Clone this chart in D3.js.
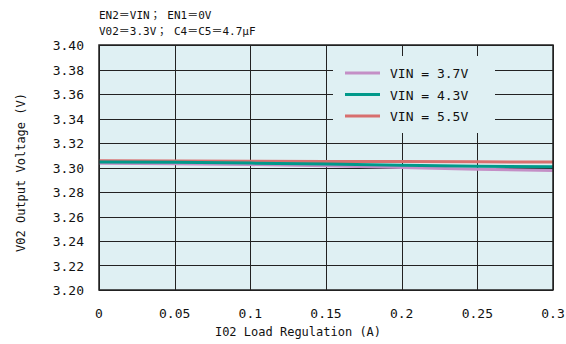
<!DOCTYPE html>
<html>
<head>
<meta charset="utf-8">
<script src="https://cdn.jsdelivr.net/npm/d3@7"></script>
<style>
  body { margin: 0; background: #fff; }
  text { font-family: "DejaVu Sans Mono", "Noto Sans CJK JP", monospace; fill: #111; }
</style>
</head>
<body>
<div id="chart"></div>
<script>
// Data
var loadCurrent = [0, 0.05, 0.1, 0.15, 0.2, 0.25, 0.3];
var vin37 = [3.3034, 3.3030, 3.3024, 3.3014, 3.3000, 3.2986, 3.2975];
var vin43 = [3.3045, 3.3042, 3.3036, 3.3028, 3.3018, 3.3010, 3.3007];
var vin55 = [3.3056, 3.3054, 3.3052, 3.3050, 3.3048, 3.3046, 3.3045];
var seriesNames = ["VIN = 3.7V", "VIN = 4.3V", "VIN = 5.5V"];
var seriesColors = ["#c48fc6", "#00998a", "#d86f6e"];
var xTicks = [0, 0.05, 0.1, 0.15, 0.2, 0.25, 0.3];
var yTicks = [3.20, 3.22, 3.24, 3.26, 3.28, 3.30, 3.32, 3.34, 3.36, 3.38, 3.40];
var titleLines = ["EN2＝VIN； EN1＝0V", "V02＝3.3V； C4＝C5＝4.7μF"];

var W = 566, H = 344;
var margin = { top: 45, right: 13, bottom: 54, left: 99 },
    width = W - margin.left - margin.right,
    height = H - margin.top - margin.bottom;

var svg = d3.select("#chart").append("svg")
    .attr("width", W).attr("height", H);
var g = svg.append("g")
    .attr("transform", "translate(" + margin.left + "," + margin.top + ")");

var x = d3.scaleLinear().domain([0, 0.3]).range([0, width]);
var y = d3.scaleLinear().domain([3.20, 3.40]).range([height, 0]);

// plot background
g.append("rect")
    .attr("width", width).attr("height", height)
    .attr("fill", "#dff0f3");

// grid
g.append("g").selectAll("line").data(xTicks).enter().append("line")
    .attr("x1", function (d) { return Math.round(x(d)) + 0.5; })
    .attr("x2", function (d) { return Math.round(x(d)) + 0.5; })
    .attr("y1", 0).attr("y2", height)
    .attr("stroke", "#222").attr("stroke-width", 1);
g.append("g").selectAll("line").data(yTicks).enter().append("line")
    .attr("y1", function (d) { return Math.round(y(d)) + 0.5; })
    .attr("y2", function (d) { return Math.round(y(d)) + 0.5; })
    .attr("x1", 0).attr("x2", width)
    .attr("stroke", "#222").attr("stroke-width", 1);

// legend box hides the grid behind it
var lg = g.append("g").attr("transform", "translate(234,11)");
lg.append("rect").attr("width", 162).attr("height", 77).attr("fill", "#dff0f3");
seriesNames.forEach(function (name, i) {
    var yy = 17 + i * 21.5;
    lg.append("line")
        .attr("x1", 12).attr("x2", 47).attr("y1", yy).attr("y2", yy)
        .attr("stroke", seriesColors[i]).attr("stroke-width", 3);
    lg.append("text")
        .attr("x", 57).attr("y", yy + 5)
        .style("font-size", "13px")
        .text(name);
});

// series lines
var line = d3.line()
    .x(function (d, i) { return x(loadCurrent[i]); })
    .y(function (d) { return y(d); });
[vin55, vin37, vin43].forEach(function (s) {
    var idx = s === vin37 ? 0 : (s === vin43 ? 1 : 2);
    g.append("path")
        .datum(s)
        .attr("d", line)
        .attr("fill", "none")
        .attr("stroke", seriesColors[idx])
        .attr("stroke-width", 3);
});

// frame
g.append("rect")
    .attr("width", width).attr("height", height)
    .attr("fill", "none").attr("stroke", "#222").attr("stroke-width", 1.5);

// tick labels
g.append("g").selectAll("text").data(yTicks).enter().append("text")
    .attr("x", -15)
    .attr("y", function (d) { return y(d) + 5; })
    .attr("text-anchor", "end")
    .style("font-size", "13px")
    .text(function (d) { return d.toFixed(2); });
g.append("g").selectAll("text").data(xTicks).enter().append("text")
    .attr("x", function (d) { return x(d); })
    .attr("y", height + 28)
    .attr("text-anchor", "middle")
    .style("font-size", "13px")
    .text(function (d) { return d3.format("~g")(d); });

// axis titles
g.append("text")
    .attr("x", width / 2 - 28)
    .attr("y", height + 46)
    .attr("text-anchor", "middle")
    .style("font-size", "12px")
    .text("I02 Load Regulation (A)");
svg.append("text")
    .attr("transform", "translate(25," + (margin.top + height / 2 + 5) + ") rotate(-90)")
    .attr("text-anchor", "middle")
    .style("font-size", "12px")
    .text("V02 Output Voltage (V)");

// title
titleLines.forEach(function (t, i) {
    svg.append("text")
        .attr("x", margin.left)
        .attr("y", 19 + i * 16)
        .style("font-size", "11px")
        .text(t);
});
</script>
</body>
</html>
